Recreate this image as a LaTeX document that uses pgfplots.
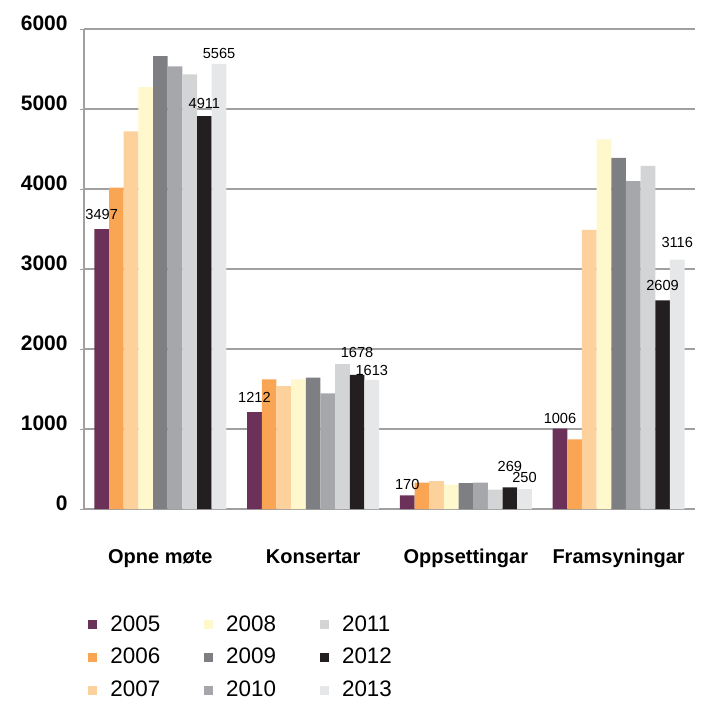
\documentclass[border=0pt]{standalone}
\usepackage{fontspec}
\setmainfont{Liberation Sans}
\usepackage{pgfplots}
\usepackage{pgfplotstable}
\pgfplotsset{compat=1.18}
\definecolor{c05}{HTML}{6B3159}
\definecolor{c06}{HTML}{F9A553}
\definecolor{c07}{HTML}{FDD19B}
\definecolor{c08}{HTML}{FFF8CC}
\definecolor{c09}{HTML}{7E7F83}
\definecolor{c10}{HTML}{A6A7AA}
\definecolor{c11}{HTML}{D3D4D6}
\definecolor{c12}{HTML}{231F20}
\definecolor{c13}{HTML}{E6E7E8}
\definecolor{gridc}{HTML}{A0A0A0}
\pgfplotstableread{
x y05 y06 y07 y08 y09 y10 y11 y12 y13 d05 d12 d13
0 3497 4016 4720 5274 5660 5532 5432 4911 5565 1.5 0 -1
1 1212 1621 1537 1620 1642 1446 1812 1678 1613 1 5 -1.5
2 170 329 350 304 325 329 242 269 250 -0.5 4.5 -0.5
3 1006 870 3490 4620 4390 4100 4290 2609 3116 -1 1.5 2.5
}\data
\begin{document}
\begin{tikzpicture}
\begin{axis}[
  name=ax,
  scale only axis,
  width=305.5pt, height=240pt,
  ybar=0pt, bar width=7.33pt,
  xmin=-0.5, xmax=3.5,
  ymin=0, ymax=6000,
  ytick={0,1000,...,6000},
  xtick={0,1,2,3},
  xticklabels={Opne møte, Konsertar, Oppsettingar, Framsyningar},
  x tick style={draw=none},
  extra x ticks={-0.5,0.5,1.5,2.5,3.5},
  extra x tick labels={},
  extra x tick style={grid=none, tick align=outside, major tick length=3pt, tick style={draw=gridc, line width=0.5pt}},
  y tick style={draw=gridc, line width=0.5pt},
  tick align=outside, major tick length=2pt,
  axis x line*=bottom, axis y line*=left,
  axis line style={draw=gridc, line width=0.6pt, -},
  ymajorgrids, grid style={draw=gridc, line width=0.6pt},
  /pgf/number format/assume math mode=true,
  /pgf/number format/1000 sep={},
  yticklabel style={font=\fontsize{10.5}{12}\selectfont\bfseries, anchor=south east, xshift=-5pt, yshift=-2pt, inner sep=1pt},
  xticklabel style={font=\fontsize{10}{12}\selectfont\bfseries, yshift=-14pt, text height=7.5pt, text depth=2.2pt},
  legend columns=3, transpose legend,
  legend cell align=left,
  legend image code/.code={\fill[#1,draw=none] (0pt,-2.25pt) rectangle (4.5pt,2.25pt);},
  legend style={at={(rel axis cs:0,0)}, anchor=north west, xshift=2pt, yshift=-52pt, draw=none, fill=none, inner sep=0pt,
    font=\fontsize{11.2}{13}\selectfont, row sep=5pt,
    nodes={inner sep=1pt},
    /tikz/every odd column/.append style={column sep=5.5pt},
    /tikz/every even column/.append style={column sep=21pt}},
  every node near coord/.append style={font=\fontsize{7.3}{8}\selectfont, text=black},
  clip=false,
]
\addplot[fill=c05, draw=none, nodes near coords, visualization depends on={\thisrow{d05} \as \dy}, every node near coord/.append style={yshift=\dy pt}] table[x=x,y=y05]{\data};
\addplot[fill=c06, draw=none] table[x=x,y=y06]{\data};
\addplot[fill=c07, draw=none] table[x=x,y=y07]{\data};
\addplot[fill=c08, draw=none] table[x=x,y=y08]{\data};
\addplot[fill=c09, draw=none] table[x=x,y=y09]{\data};
\addplot[fill=c10, draw=none] table[x=x,y=y10]{\data};
\addplot[fill=c11, draw=none] table[x=x,y=y11]{\data};
\addplot[fill=c12, draw=none, nodes near coords, visualization depends on={\thisrow{d12} \as \dy}, every node near coord/.append style={yshift=\dy pt}] table[x=x,y=y12]{\data};
\addplot[fill=c13, draw=none, nodes near coords, visualization depends on={\thisrow{d13} \as \dy}, every node near coord/.append style={yshift=\dy pt}] table[x=x,y=y13]{\data};
\legend{2005,2006,2007,2008,2009,2010,2011,2012,2013}
\end{axis}
\path (ax.south west) ++(-42pt,-95.5pt) rectangle ++(355pt,350pt);
\end{tikzpicture}
\end{document}
